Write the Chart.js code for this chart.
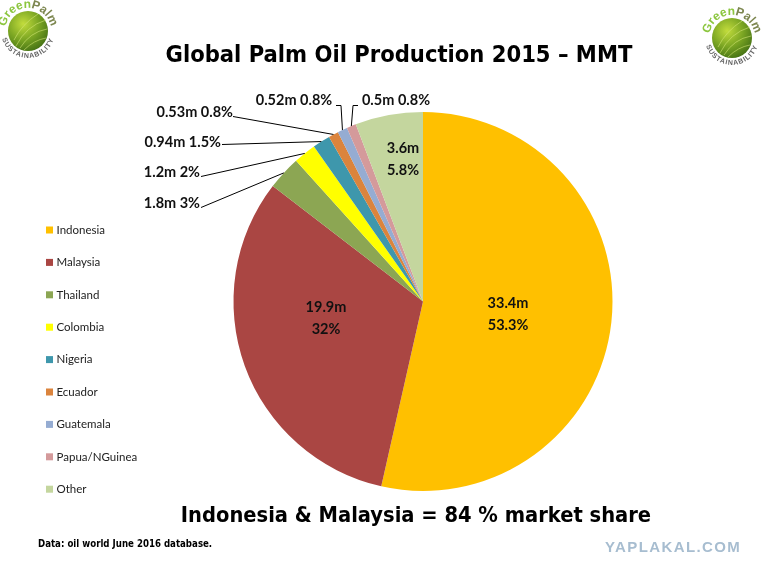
<!DOCTYPE html>
<html>
<head>
<meta charset="utf-8">
<script src="https://cdn.jsdelivr.net/npm/chart.js@4.4.1/dist/chart.umd.min.js"></script>
<style>
  html,body{margin:0;padding:0;background:#fff;}
  #wrap{position:relative;width:768px;height:576px;overflow:hidden;background:#fff;}
  #c{position:absolute;left:0;top:0;}
  .t{position:absolute;white-space:nowrap;font-family:"DejaVu Sans Condensed","DejaVu Sans",sans-serif;font-stretch:condensed;font-weight:bold;color:#000;}
  #title{left:0;width:798px;top:40px;text-align:center;font-size:23.5px;}
  #sub{left:0;width:832px;top:502px;text-align:center;font-size:21.7px;}
  #note{left:38px;top:538px;font-size:9.6px;}
  #wm{left:605px;top:538px;font-family:"Liberation Sans",Arial,sans-serif;font-size:15px;color:#a7bdd0;letter-spacing:1.4px;}
  .logo{position:absolute;}
</style>
</head>
<body>
<div id="wrap">
  <canvas id="c" width="768" height="576"></canvas>
  <div id="title" class="t">Global Palm Oil Production 2015 – MMT</div>
  <div id="sub" class="t">Indonesia &amp; Malaysia = 84 % market share</div>
  <div id="note" class="t">Data: oil world June 2016 database.</div>
  <div id="wm" class="t">YAPLAKAL.COM</div>

  <svg class="logo" style="left:-4px;top:-3px" width="64" height="70" viewBox="0 0 64 70">
    <defs>
      <radialGradient id="lg1" cx="38%" cy="32%" r="75%">
        <stop offset="0" stop-color="#c2dc3c"/><stop offset="0.55" stop-color="#78a322"/><stop offset="1" stop-color="#416e14"/>
      </radialGradient>
      <path id="top1" d="M 9,34 A 23,23 0 0 1 55,34"/>
      <path id="bot1" d="M 5,34 A 27,27 0 0 0 59,34"/>
    </defs>
    <circle cx="32" cy="34" r="20" fill="url(#lg1)"/>
    <g stroke="#d7ea7a" stroke-width="0.8" opacity="0.7" fill="none">
      <path d="M 20,49 Q 30,29 50,23"/><path d="M 24,51 Q 34,35 51,32"/><path d="M 28,53 Q 38,43 50,41"/><path d="M 18,43 Q 26,27 42,17"/>
    </g>
    <text font-family="Liberation Sans,Arial,sans-serif" font-weight="bold" font-size="12" text-anchor="middle"><textPath href="#top1" startOffset="50%"><tspan fill="#8cc63f">Green</tspan><tspan fill="#7d8750">Palm</tspan></textPath></text>
    <text font-family="Liberation Sans,Arial,sans-serif" font-weight="bold" font-size="7" fill="#666" letter-spacing="0.8" text-anchor="middle"><textPath href="#bot1" startOffset="50%">SUSTAINABILITY</textPath></text>
  </svg>

  <svg class="logo" style="left:700px;top:4px" width="64" height="70" viewBox="0 0 64 70">
    <defs>
      <radialGradient id="lg2" cx="38%" cy="32%" r="75%">
        <stop offset="0" stop-color="#c2dc3c"/><stop offset="0.55" stop-color="#78a322"/><stop offset="1" stop-color="#416e14"/>
      </radialGradient>
      <path id="top2" d="M 9,34 A 23,23 0 0 1 55,34"/>
      <path id="bot2" d="M 5,34 A 27,27 0 0 0 59,34"/>
    </defs>
    <circle cx="32" cy="34" r="20" fill="url(#lg2)"/>
    <g stroke="#d7ea7a" stroke-width="0.8" opacity="0.7" fill="none">
      <path d="M 20,49 Q 30,29 50,23"/><path d="M 24,51 Q 34,35 51,32"/><path d="M 28,53 Q 38,43 50,41"/><path d="M 18,43 Q 26,27 42,17"/>
    </g>
    <text font-family="Liberation Sans,Arial,sans-serif" font-weight="bold" font-size="12" text-anchor="middle"><textPath href="#top2" startOffset="50%"><tspan fill="#8cc63f">Green</tspan><tspan fill="#7d8750">Palm</tspan></textPath></text>
    <text font-family="Liberation Sans,Arial,sans-serif" font-weight="bold" font-size="7" fill="#666" letter-spacing="0.8" text-anchor="middle"><textPath href="#bot2" startOffset="50%">SUSTAINABILITY</textPath></text>
  </svg>
</div>
<script>
// ---- Data ----
const countries = ['Indonesia','Malaysia','Thailand','Colombia','Nigeria','Ecuador','Guatemala','Papua/NGuinea','Other'];
const productionMMT = [33.4, 19.9, 1.8, 1.2, 0.94, 0.53, 0.52, 0.5, 3.6];
const shareLabels = ['53.3%','32%','3%','2%','1.5%','0.8%','0.8%','0.8%','5.8%'];
const sliceColors = ['#FFC000','#AA4643','#8CA653','#FFFF00','#3E97AC','#DB843D','#95ACD2','#D49A9B','#C4D69E'];

// ---- Label layout (relative to pie centre, px) ----
// inside: two-line label centred at (dx,dy); outside: text + leader line to slice edge
const labelLayout = [
  {type:'in', dx:85, dy:13},
  {type:'in', dx:-97, dy:17},
  {type:'out', align:'right', tx:-223, ty:-98, lx:-222, ly:-94},
  {type:'out', align:'right', tx:-223, ty:-129, lx:-222, ly:-125},
  {type:'out', align:'right', tx:-202, ty:-159, lx:-201, ly:-157},
  {type:'out', align:'right', tx:-190, ty:-189, lx:-190, ly:-185},
  {type:'out', align:'center', tx:-129, ty:-201, lx:-87, ly:-196, kx:-82},
  {type:'out', align:'center', tx:-27, ty:-201, lx:-65, ly:-196, kx:-70},
  {type:'in', dx:-20, dy:-142}
];

const labelFont = 'bold 14.5px Lato, "Open Sans", sans-serif';

const sliceLabels = {
  id:'sliceLabels',
  afterDatasetsDraw(chart){
    const ctx = chart.ctx;
    const meta = chart.getDatasetMeta(0);
    const vals = chart.data.datasets[0].data;
    ctx.save();
    ctx.font = labelFont;
    ctx.fillStyle = '#111';
    ctx.strokeStyle = '#000';
    ctx.lineWidth = 1;
    meta.data.forEach((arc, i) => {
      const p = arc.getProps(['x','y','startAngle','endAngle','outerRadius'], true);
      const cx = p.x, cy = p.y;
      const L = labelLayout[i];
      const valTxt = vals[i] + 'm';
      if (L.type === 'in') {
        ctx.textAlign = 'center';
        ctx.textBaseline = 'middle';
        ctx.fillText(valTxt, cx + L.dx, cy + L.dy - 11);
        ctx.fillText(shareLabels[i], cx + L.dx, cy + L.dy + 11);
      } else {
        const mid = (p.startAngle + p.endAngle) / 2;
        const ax = cx + p.outerRadius * Math.cos(mid);
        const ay = cy + p.outerRadius * Math.sin(mid);
        ctx.textAlign = L.align;
        ctx.textBaseline = 'middle';
        ctx.fillText(valTxt + ' ' + shareLabels[i], cx + L.tx, cy + L.ty);
        ctx.beginPath();
        ctx.moveTo(cx + L.lx, cy + L.ly);
        if (L.kx !== undefined) ctx.lineTo(cx + L.kx, cy + L.ly);
        ctx.lineTo(ax, ay);
        ctx.stroke();
      }
    });
    ctx.restore();
  }
};

const sideLegend = {
  id:'sideLegend',
  afterDraw(chart){
    const ctx = chart.ctx;
    const ds = chart.data.datasets[0];
    ctx.save();
    ctx.font = '11.5px Lato, "Open Sans", sans-serif';
    ctx.textAlign = 'left';
    ctx.textBaseline = 'middle';
    chart.data.labels.forEach((lab, i) => {
      const y = 230 + i * 32.4;
      ctx.fillStyle = ds.backgroundColor[i];
      ctx.fillRect(46, y - 3.5, 7, 7);
      ctx.fillStyle = '#222';
      ctx.fillText(lab, 56.5, y);
    });
    ctx.restore();
  }
};

new Chart(document.getElementById('c'), {
  type:'pie',
  data:{
    labels: countries,
    datasets:[{
      data: productionMMT,
      backgroundColor: sliceColors,
      borderWidth: 0
    }]
  },
  options:{
    responsive:false,
    animation:false,
    layout:{padding:{left:233, right:155, top:112, bottom:85}},
    plugins:{legend:{display:false}, tooltip:{enabled:false}, title:{display:false}}
  },
  plugins:[sliceLabels, sideLegend]
});
</script>
</body>
</html>
